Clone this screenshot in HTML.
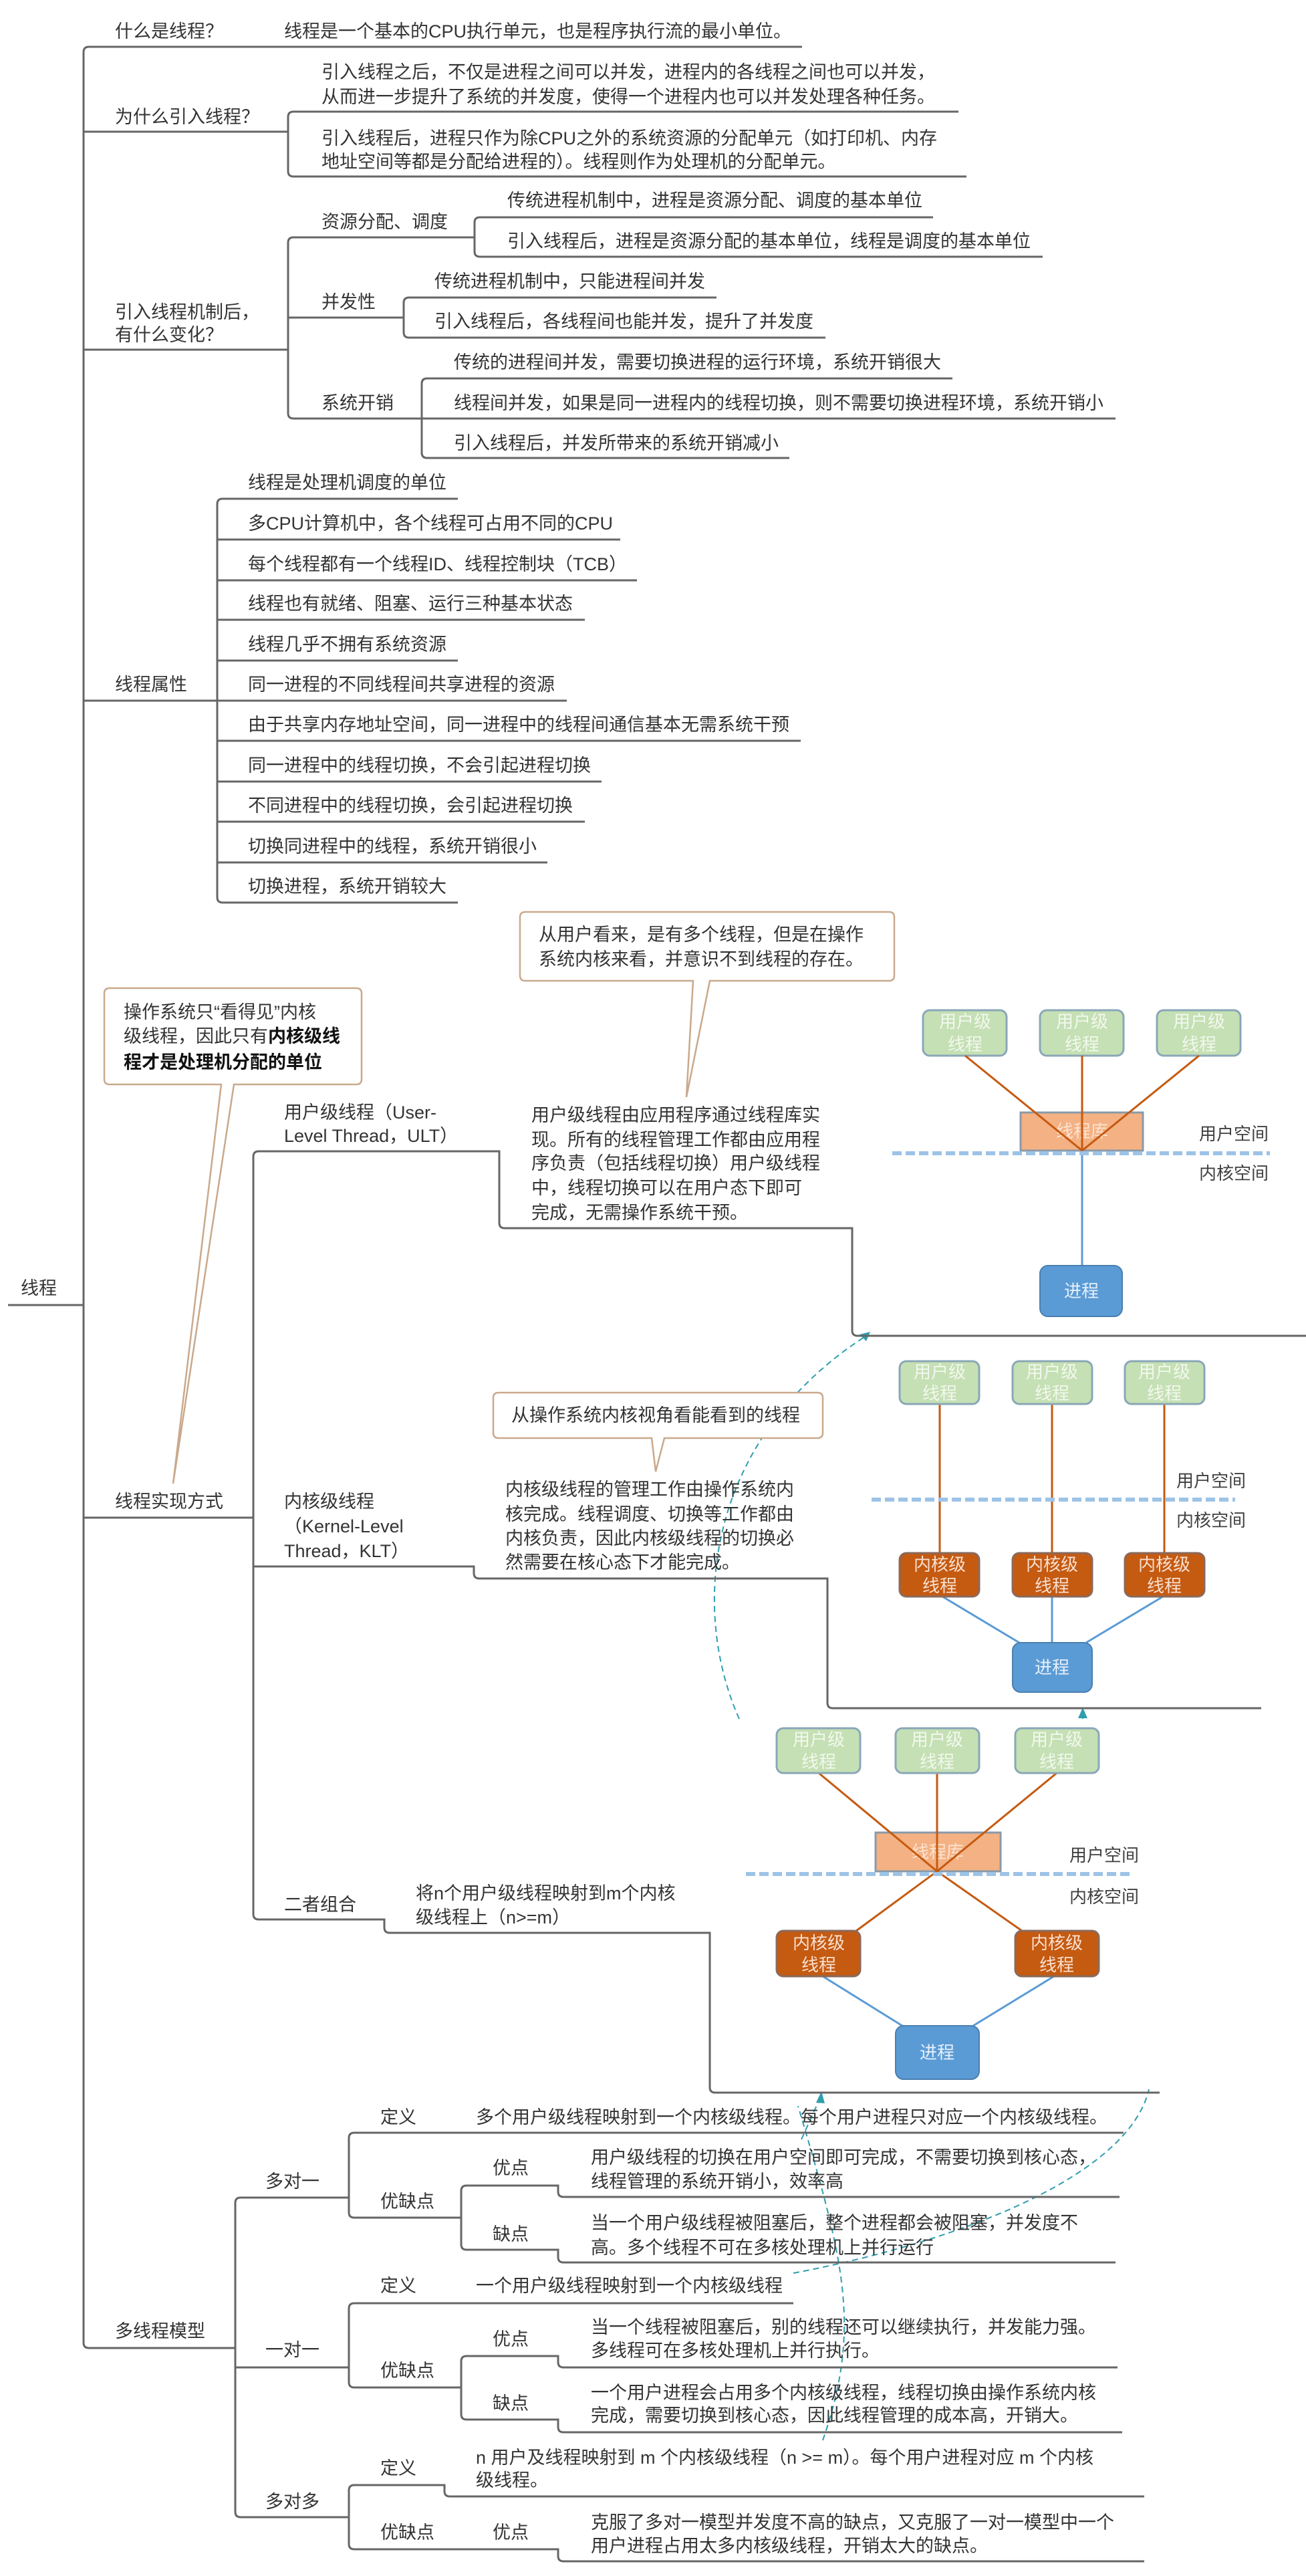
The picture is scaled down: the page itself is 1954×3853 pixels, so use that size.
<!DOCTYPE html>
<html><head><meta charset="utf-8"><style>
html,body{margin:0;padding:0;background:#fff;}
svg{display:block;}
text{font-family:"Liberation Sans","Noto Sans CJK SC",sans-serif;font-size:27px;fill:#333;dominant-baseline:central;}
.t{stroke:#666;stroke-width:3;fill:none;}
text.bx{font-size:26px;text-anchor:middle;}
text.g{fill:#f2f8ee;}
text.k{fill:#f8e0d0;}
text.p{fill:#e6f0fa;}
text.l{fill:#fbe3d2;}
text.sp{font-size:26px;fill:#404040;}
</style></head><body>
<svg width="1954" height="3853" viewBox="0 0 1954 3853" xmlns="http://www.w3.org/2000/svg">
<rect width="1954" height="3853" fill="#fff"/>

<g stroke="#2f9eae" stroke-width="2" stroke-dasharray="9 6" fill="none">
<path d="M1106,2571 C1030,2400 1060,2150 1296,1998"/>
<path d="M1231,3650 C1290,3480 1262,3380 1194,3150"/>
<path d="M1187,3400 C1450,3350 1690,3250 1719,3125"/>
<path d="M1199,3200 L1227,3138"/>
<path d="M1620,2562 L1620,2572"/>
</g>
<g fill="#2f9eae">
<polygon points="1302,1992 1286,1996 1296,2006"/>
<polygon points="1620,2554 1613,2570 1627,2570"/>
<polygon points="1229,3128 1221,3145 1234,3146"/>
</g>

<g class="t">
<path d="M12,1952 H125"/>
<path d="M125,78 Q125,70 133,70 H1200"/>
<path d="M125,78 V3504 Q125,3512 133,3512 H352"/>
<path d="M125,197 H431"/><path d="M125,523 H431"/><path d="M125,1048 H325"/><path d="M125,2270 H379"/>
<path d="M431,175 Q431,167 439,167 H1434"/><path d="M431,175 V256 Q431,264 439,264 H1446"/>
<path d="M431,363 Q431,355 439,355 H710"/><path d="M431,363 V618 Q431,626 439,626 H631"/><path d="M431,475 H604"/>
<path d="M710,333 Q710,325 718,325 H1396"/><path d="M710,333 V376 Q710,384 718,384 H1560"/>
<path d="M604,453 Q604,445 612,445 H1072"/><path d="M604,453 V497 Q604,505 612,505 H1235"/>
<path d="M631,574 Q631,566 639,566 H1425"/><path d="M631,574 V677 Q631,685 639,685 H1181"/><path d="M631,626 H1669"/>
<path d="M325,754 Q325,746 333,746 H685"/><path d="M325,754 V1342 Q325,1350 333,1350 H685"/>
<path d="M325,807 H928"/><path d="M325,868 H953"/><path d="M325,927 H875"/><path d="M325,988 H685"/>
<path d="M325,1048 H848"/><path d="M325,1108 H1198"/><path d="M325,1169 H900"/><path d="M325,1229 H875"/><path d="M325,1290 H819"/>
<path d="M379,1730 Q379,1722 387,1722 H747 V1829 Q747,1837 755,1837 H1275 V1990 Q1275,1998 1283,1998 H1954"/>
<path d="M379,1730 V2863 Q379,2871 387,2871 H575 V2883 Q575,2891 583,2891 H1062 V3122 Q1062,3130 1070,3130 H1735"/>
<path d="M379,2343 H709 V2353 Q709,2361 717,2361 H1238 V2547 Q1238,2555 1246,2555 H1887"/>
<path d="M352,3295 Q352,3287 360,3287 H522"/><path d="M352,3295 V3757 Q352,3765 360,3765 H522"/><path d="M352,3541 H522"/>
<path d="M522,3198 Q522,3190 530,3190 H1681"/><path d="M522,3198 V3309 Q522,3317 530,3317 H690"/>
<path d="M690,3277 Q690,3269 698,3269 H835 V3278 Q835,3286 843,3286 H1675"/>
<path d="M690,3277 V3357 Q690,3365 698,3365 H835 V3376 Q835,3384 843,3384 H1669"/>
<path d="M522,3453 Q522,3445 530,3445 H1187"/><path d="M522,3453 V3563 Q522,3571 530,3571 H690"/>
<path d="M690,3532 Q690,3524 698,3524 H835 V3533 Q835,3541 843,3541 H1672"/>
<path d="M690,3532 V3611 Q690,3619 698,3619 H835 V3630 Q835,3638 843,3638 H1679"/>
<path d="M522,3725 Q522,3717 530,3717 H665 V3726 Q665,3734 673,3734 H1712"/>
<path d="M522,3725 V3805 Q522,3813 530,3813 H835 V3823 Q835,3831 843,3831 H1712"/>
</g>

<g fill="#fff" stroke="#c9a98c" stroke-width="2.5">
<path d="M164,1478 H533 Q541,1478 541,1486 V1614 Q541,1622 533,1622 H350 L259,2219 L331,1622 H164 Q156,1622 156,1614 V1486 Q156,1478 164,1478 Z"/>
<path d="M786,1364 H1330 Q1338,1364 1338,1372 V1459 Q1338,1467 1330,1467 H1062 L1027,1641 L1037,1467 H786 Q778,1467 778,1459 V1372 Q778,1364 786,1364 Z"/>
<path d="M746,2083 H1223 Q1231,2083 1231,2091 V2143 Q1231,2151 1223,2151 H994 L981,2201 L975,2151 H746 Q738,2151 738,2143 V2091 Q738,2083 746,2083 Z"/>
</g>
<text x="185" y="1514">操作系统只“看得见”内核</text>
<text x="185" y="1550">级线程，因此只有<tspan font-weight="bold" fill="#111">内核级线</tspan></text>
<text x="185" y="1589" font-weight="bold" style="fill:#111">程才是处理机分配的单位</text>
<text x="806" y="1398">从用户看来，是有多个线程，但是在操作</text>
<text x="806" y="1435">系统内核来看，并意识不到线程的存在。</text>
<text x="765" y="2117">从操作系统内核视角看能看到的线程</text>

<!-- diagram 1 -->
<line x1="1619" y1="1721" x2="1619" y2="1893" stroke="#5b9bd5" stroke-width="3"/>
<g fill="#c5e0b4" stroke="#8aa7b8" stroke-width="3">
<rect x="1381" y="1511" width="125" height="68" rx="10"/><rect x="1556" y="1511" width="125" height="68" rx="10"/><rect x="1731" y="1511" width="125" height="68" rx="10"/></g>
<rect x="1527" y="1664" width="183" height="57" fill="#f4b183" stroke="#8a9aa8" stroke-width="3"/>
<text class="bx l" x="1619" y="1692">线程库</text>
<g stroke="#c55a11" stroke-width="3"><line x1="1444" y1="1579" x2="1619" y2="1721"/><line x1="1619" y1="1579" x2="1619" y2="1721"/><line x1="1794" y1="1579" x2="1619" y2="1721"/></g>
<line x1="1335" y1="1725" x2="1900" y2="1725" stroke="#9dc3e6" stroke-width="6" stroke-dasharray="14 6"/>
<rect x="1556" y="1893" width="123" height="76" rx="12" fill="#5b9bd5" stroke="#4a7fb0" stroke-width="2"/>
<text class="bx g" x="1444" y="1528">用户级</text><text class="bx g" x="1444" y="1562">线程</text>
<text class="bx g" x="1619" y="1528">用户级</text><text class="bx g" x="1619" y="1562">线程</text>
<text class="bx g" x="1794" y="1528">用户级</text><text class="bx g" x="1794" y="1562">线程</text>
<text class="bx p" x="1618" y="1931">进程</text>
<text class="sp" x="1794" y="1696">用户空间</text><text class="sp" x="1794" y="1755">内核空间</text>

<!-- diagram 2 -->
<g stroke="#c55a11" stroke-width="3"><line x1="1406" y1="2100" x2="1406" y2="2323"/><line x1="1574" y1="2100" x2="1574" y2="2323"/><line x1="1742" y1="2100" x2="1742" y2="2323"/></g>
<g stroke="#5b9bd5" stroke-width="3"><line x1="1410" y1="2388" x2="1525" y2="2457"/><line x1="1574" y1="2388" x2="1574" y2="2457"/><line x1="1740" y1="2388" x2="1625" y2="2457"/></g>
<g fill="#c5e0b4" stroke="#8aa7b8" stroke-width="3">
<rect x="1346" y="2036" width="119" height="64" rx="10"/><rect x="1515" y="2036" width="119" height="64" rx="10"/><rect x="1683" y="2036" width="119" height="64" rx="10"/></g>
<g fill="#c55a11" stroke="#8a6a5a" stroke-width="3">
<rect x="1346" y="2323" width="119" height="65" rx="10"/><rect x="1515" y="2323" width="119" height="65" rx="10"/><rect x="1683" y="2323" width="119" height="65" rx="10"/></g>
<line x1="1304" y1="2243" x2="1848" y2="2243" stroke="#9dc3e6" stroke-width="6" stroke-dasharray="14 6"/>
<rect x="1515" y="2457" width="119" height="74" rx="12" fill="#5b9bd5" stroke="#4a7fb0" stroke-width="2"/>
<text class="bx g" x="1406" y="2052">用户级</text><text class="bx g" x="1406" y="2084">线程</text>
<text class="bx g" x="1574" y="2052">用户级</text><text class="bx g" x="1574" y="2084">线程</text>
<text class="bx g" x="1742" y="2052">用户级</text><text class="bx g" x="1742" y="2084">线程</text>
<text class="bx k" x="1406" y="2340">内核级</text><text class="bx k" x="1406" y="2372">线程</text>
<text class="bx k" x="1574" y="2340">内核级</text><text class="bx k" x="1574" y="2372">线程</text>
<text class="bx k" x="1742" y="2340">内核级</text><text class="bx k" x="1742" y="2372">线程</text>
<text class="bx p" x="1574" y="2494">进程</text>
<text class="sp" x="1760" y="2215">用户空间</text><text class="sp" x="1760" y="2274">内核空间</text>

<!-- diagram 3 -->
<rect x="1310" y="2741" width="187" height="58" fill="#f4b183" stroke="#8a9aa8" stroke-width="3"/>
<text class="bx l" x="1403" y="2770">线程库</text>
<g stroke="#c55a11" stroke-width="3">
<line x1="1225" y1="2652" x2="1402" y2="2799"/><line x1="1402" y1="2652" x2="1402" y2="2799"/><line x1="1581" y1="2652" x2="1402" y2="2799"/>
<line x1="1402" y1="2799" x2="1281" y2="2888"/><line x1="1402" y1="2799" x2="1529" y2="2888"/></g>
<g stroke="#5b9bd5" stroke-width="3"><line x1="1231" y1="2956" x2="1350" y2="3030"/><line x1="1577" y1="2956" x2="1456" y2="3030"/></g>
<g fill="#c5e0b4" stroke="#8aa7b8" stroke-width="3">
<rect x="1162" y="2585" width="125" height="67" rx="10"/><rect x="1340" y="2585" width="125" height="67" rx="10"/><rect x="1519" y="2585" width="125" height="67" rx="10"/></g>
<g fill="#c55a11" stroke="#8a6a5a" stroke-width="3">
<rect x="1162" y="2888" width="125" height="68" rx="10"/><rect x="1519" y="2888" width="125" height="68" rx="10"/></g>
<line x1="1116" y1="2803" x2="1694" y2="2803" stroke="#9dc3e6" stroke-width="6" stroke-dasharray="14 6"/>
<rect x="1340" y="3030" width="125" height="80" rx="12" fill="#5b9bd5" stroke="#4a7fb0" stroke-width="2"/>
<text class="bx g" x="1225" y="2602">用户级</text><text class="bx g" x="1225" y="2635">线程</text>
<text class="bx g" x="1402" y="2602">用户级</text><text class="bx g" x="1402" y="2635">线程</text>
<text class="bx g" x="1581" y="2602">用户级</text><text class="bx g" x="1581" y="2635">线程</text>
<text class="bx k" x="1225" y="2906">内核级</text><text class="bx k" x="1225" y="2939">线程</text>
<text class="bx k" x="1581" y="2906">内核级</text><text class="bx k" x="1581" y="2939">线程</text>
<text class="bx p" x="1402" y="3070">进程</text>
<text class="sp" x="1600" y="2775">用户空间</text><text class="sp" x="1600" y="2837">内核空间</text>

<text x="31" y="1927">线程</text>
<text x="172" y="47">什么是线程？</text>
<text x="425" y="47">线程是一个基本的CPU执行单元，也是程序执行流的最小单位。</text>
<text x="172" y="175">为什么引入线程？</text>
<text x="481" y="108">引入线程之后，不仅是进程之间可以并发，进程内的各线程之间也可以并发，</text>
<text x="481" y="145">从而进一步提升了系统的并发度，使得一个进程内也可以并发处理各种任务。</text>
<text x="481" y="207">引入线程后，进程只作为除CPU之外的系统资源的分配单元（如打印机、内存</text>
<text x="481" y="242">地址空间等都是分配给进程的）。线程则作为处理机的分配单元。</text>
<text x="172" y="467">引入线程机制后，</text>
<text x="172" y="501">有什么变化？</text>
<text x="481" y="332">资源分配、调度</text>
<text x="759" y="300">传统进程机制中，进程是资源分配、调度的基本单位</text>
<text x="759" y="361">引入线程后，进程是资源分配的基本单位，线程是调度的基本单位</text>
<text x="481" y="452">并发性</text>
<text x="650" y="421">传统进程机制中，只能进程间并发</text>
<text x="650" y="481">引入线程后，各线程间也能并发，提升了并发度</text>
<text x="481" y="603">系统开销</text>
<text x="679" y="542">传统的进程间并发，需要切换进程的运行环境，系统开销很大</text>
<text x="679" y="603">线程间并发，如果是同一进程内的线程切换，则不需要切换进程环境，系统开销小</text>
<text x="679" y="663">引入线程后，并发所带来的系统开销减小</text>
<text x="172" y="1024">线程属性</text>
<text x="371" y="722">线程是处理机调度的单位</text>
<text x="371" y="783">多CPU计算机中，各个线程可占用不同的CPU</text>
<text x="371" y="844">每个线程都有一个线程ID、线程控制块（TCB）</text>
<text x="371" y="903">线程也有就绪、阻塞、运行三种基本状态</text>
<text x="371" y="964">线程几乎不拥有系统资源</text>
<text x="371" y="1024">同一进程的不同线程间共享进程的资源</text>
<text x="371" y="1084">由于共享内存地址空间，同一进程中的线程间通信基本无需系统干预</text>
<text x="371" y="1145">同一进程中的线程切换，不会引起进程切换</text>
<text x="371" y="1205">不同进程中的线程切换，会引起进程切换</text>
<text x="371" y="1266">切换同进程中的线程，系统开销很小</text>
<text x="371" y="1326">切换进程，系统开销较大</text>
<text x="172" y="2246">线程实现方式</text>
<text x="425" y="1664">用户级线程（User-</text>
<text x="425" y="1699">Level Thread，ULT）</text>
<text x="795" y="1668">用户级线程由应用程序通过线程库实</text>
<text x="795" y="1705">现。所有的线程管理工作都由应用程</text>
<text x="795" y="1740">序负责（包括线程切换）用户级线程</text>
<text x="795" y="1777">中，线程切换可以在用户态下即可</text>
<text x="795" y="1814">完成，无需操作系统干预。</text>
<text x="425" y="2246">内核级线程</text>
<text x="425" y="2283">（Kernel-Level</text>
<text x="425" y="2320">Thread，KLT）</text>
<text x="756" y="2228">内核级线程的管理工作由操作系统内</text>
<text x="756" y="2265">核完成。线程调度、切换等工作都由</text>
<text x="756" y="2301">内核负责，因此内核级线程的切换必</text>
<text x="756" y="2337">然需要在核心态下才能完成。</text>
<text x="425" y="2849">二者组合</text>
<text x="622" y="2832">将n个用户级线程映射到m个内核</text>
<text x="622" y="2868">级线程上（n&gt;=m）</text>
<text x="172" y="3487">多线程模型</text>
<text x="397" y="3263">多对一</text>
<text x="569" y="3167">定义</text>
<text x="712" y="3167">多个用户级线程映射到一个内核级线程。每个用户进程只对应一个内核级线程。</text>
<text x="569" y="3293">优缺点</text>
<text x="737" y="3243">优点</text>
<text x="884" y="3227">用户级线程的切换在用户空间即可完成，不需要切换到核心态，</text>
<text x="884" y="3263">线程管理的系统开销小，效率高</text>
<text x="737" y="3342">缺点</text>
<text x="884" y="3325">当一个用户级线程被阻塞后，整个进程都会被阻塞，并发度不</text>
<text x="884" y="3362">高。多个线程不可在多核处理机上并行运行</text>
<text x="397" y="3515">一对一</text>
<text x="569" y="3419">定义</text>
<text x="712" y="3419">一个用户级线程映射到一个内核级线程</text>
<text x="569" y="3546">优缺点</text>
<text x="737" y="3499">优点</text>
<text x="884" y="3481">当一个线程被阻塞后，别的线程还可以继续执行，并发能力强。</text>
<text x="884" y="3516">多线程可在多核处理机上并行执行。</text>
<text x="737" y="3595">缺点</text>
<text x="884" y="3579">一个用户进程会占用多个内核级线程，线程切换由操作系统内核</text>
<text x="884" y="3613">完成，需要切换到核心态，因此线程管理的成本高，开销大。</text>
<text x="397" y="3742">多对多</text>
<text x="569" y="3692">定义</text>
<text x="712" y="3676">n 用户及线程映射到 m 个内核级线程（n &gt;= m）。每个用户进程对应 m 个内核</text>
<text x="712" y="3710">级线程。</text>
<text x="569" y="3788">优缺点</text>
<text x="737" y="3788">优点</text>
<text x="884" y="3773">克服了多对一模型并发度不高的缺点，又克服了一对一模型中一个</text>
<text x="884" y="3808">用户进程占用太多内核级线程，开销太大的缺点。</text>
</svg>
</body></html>
